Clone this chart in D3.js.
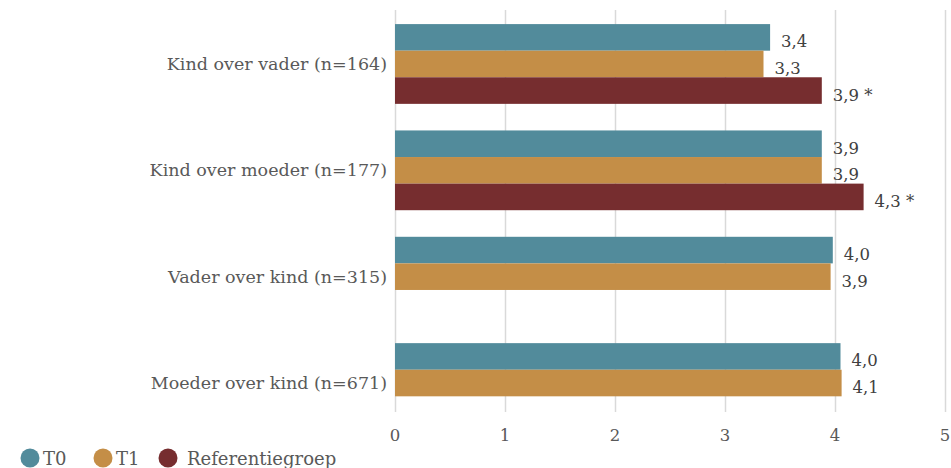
<!DOCTYPE html>
<html>
<head>
<meta charset="utf-8">
<script src="https://cdn.jsdelivr.net/npm/d3@7"></script>
<style>
  body { margin: 0; background: #fff; }
  svg text { font-family: "DejaVu Serif", serif; fill: #595959; }
</style>
</head>
<body>
<div id="chart"></div>
<script>
// categories (top to bottom)
var categories = ["Kind over vader (n=164)", "Kind over moeder (n=177)", "Vader over kind (n=315)", "Moeder over kind (n=671)"];
var seriesNames = ["T0", "T1", "Referentiegroep"];
var seriesColors = ["#528b9b", "#c48e47", "#762d2f"];

// values (null = no bar)
var t0Values = [3.41, 3.88, 3.98, 4.05];
var t1Values = [3.35, 3.88, 3.96, 4.06];
var refValues = [3.88, 4.26, null, null];

// data labels as printed
var t0Labels = ["3,4", "3,9", "4,0", "4,0"];
var t1Labels = ["3,3", "3,9", "3,9", "4,1"];
var refLabels = ["3,9 *", "4,3 *", "", ""];

var xTicks = [0, 1, 2, 3, 4, 5];

var width = 951, height = 468;

var svg = d3.select("#chart").append("svg")
  .attr("width", width)
  .attr("height", height);

var x = d3.scaleLinear()
  .domain([0, 5])
  .range([395, 945]);

var y = d3.scaleBand()
  .domain(categories)
  .range([10.8, 436.2])
  .paddingInner(0.25)
  .paddingOuter(0.125);

var ySub = d3.scaleBand()
  .domain(seriesNames)
  .range([0, y.bandwidth()]);

// grid lines
svg.append("g").selectAll("line")
  .data(xTicks)
  .enter().append("line")
  .attr("x1", function(d) { return Math.round(x(d)) + 0.5; })
  .attr("x2", function(d) { return Math.round(x(d)) + 0.5; })
  .attr("y1", 10)
  .attr("y2", 412)
  .attr("stroke", "#d9d9d9")
  .attr("stroke-width", 1.5);

// tick labels
svg.append("g").selectAll("text")
  .data(xTicks)
  .enter().append("text")
  .attr("x", function(d) { return x(d); })
  .attr("y", 441)
  .attr("text-anchor", "middle")
  .style("font-size", "16.5px")
  .text(function(d) { return d; });

var series = [
  { name: "T0", values: t0Values, labels: t0Labels },
  { name: "T1", values: t1Values, labels: t1Labels },
  { name: "Referentiegroep", values: refValues, labels: refLabels }
];

series.forEach(function(s, si) {
  var rows = categories.map(function(c, i) {
    return { cat: c, value: s.values[i], label: s.labels[i] };
  }).filter(function(d) { return d.value != null; });

  var g = svg.append("g");

  g.selectAll("rect")
    .data(rows)
    .enter().append("rect")
    .attr("x", x(0))
    .attr("y", function(d) { return y(d.cat) + ySub(s.name); })
    .attr("width", function(d) { return x(d.value) - x(0); })
    .attr("height", ySub.bandwidth())
    .attr("fill", seriesColors[si]);

  g.selectAll("text")
    .data(rows)
    .enter().append("text")
    .attr("x", function(d) { return x(d.value) + 11; })
    .attr("y", function(d) { return y(d.cat) + ySub(s.name) + ySub.bandwidth() / 2 + 10; })
    .style("font-size", "16.5px")
    .style("fill", "#404040")
    .text(function(d) { return d.label; });
});

// category labels
svg.append("g").selectAll("text")
  .data(categories)
  .enter().append("text")
  .attr("x", 387)
  .attr("y", function(d) { return y(d) + y.bandwidth() / 2 + 6; })
  .attr("text-anchor", "end")
  .style("font-size", "17.5px")
  .text(function(d) { return d; });

// legend
var legendX = [30, 103, 168];
var legend = svg.append("g").selectAll("g")
  .data(seriesNames)
  .enter().append("g")
  .attr("transform", function(d, i) { return "translate(" + legendX[i] + ",458)"; });

legend.append("circle")
  .attr("r", 9.5)
  .attr("fill", function(d, i) { return seriesColors[i]; });

legend.append("text")
  .attr("x", function(d, i) { return i == 2 ? 19 : 13; })
  .attr("y", 7)
  .style("font-size", "18px")
  .text(function(d) { return d; });
</script>
</body>
</html>
